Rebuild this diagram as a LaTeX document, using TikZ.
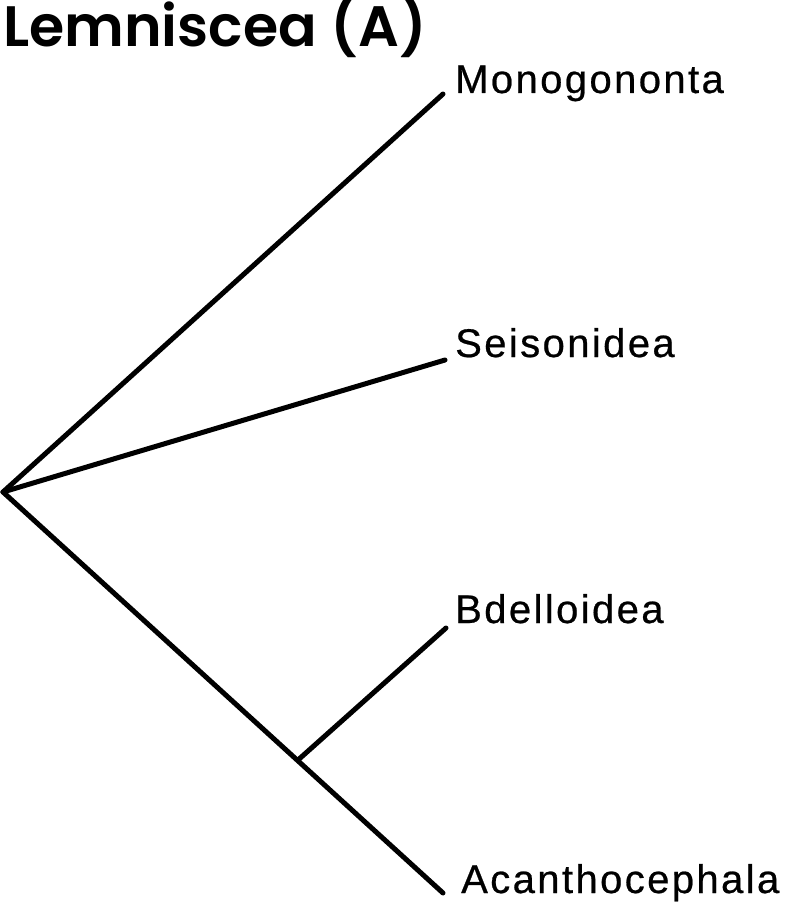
\documentclass[tikz,border=0pt]{standalone}
\usepackage{fontspec}
\setmainfont{Liberation Sans}[LetterSpace=6,FakeBold=0.6]
\newfontfamily\titlefont{Poppins SemiBold}
\begin{document}
\begin{tikzpicture}[x=1pt,y=-1pt,
  branch/.style={line width=5pt,line cap=round},
  taxon/.style={anchor=base west,inner sep=0pt,font=\fontsize{40}{40}\selectfont},
  titlestyle/.style={anchor=base west,inner sep=0pt,font=\titlefont\fontsize{57}{57}\selectfont}]
\useasboundingbox (0,0) rectangle (787,909);
\node[titlestyle] (title) at (3,47) {Lemniscea (A)};
\coordinate (root) at (3,492);
\coordinate (mono) at (443,94);
\coordinate (seis) at (445,360);
\coordinate (bdel) at (446,628);
\coordinate (acan) at (443,893);
\coordinate (fork) at (298,760);
\node[taxon] (lmono) at (455,93) {Monogononta};
\node[taxon] (lseis) at (455,357) {Seisonidea};
\node[taxon] (lbdel) at (455,623) {Bdelloidea};
\node[taxon] (lacan) at (461,893) {Acanthocephala};
\draw[branch] (root) -- (mono);
\draw[branch] (root) -- (seis);
\draw[branch] (root) -- (acan);
\draw[branch] (fork) -- (bdel);
\end{tikzpicture}
\end{document}
